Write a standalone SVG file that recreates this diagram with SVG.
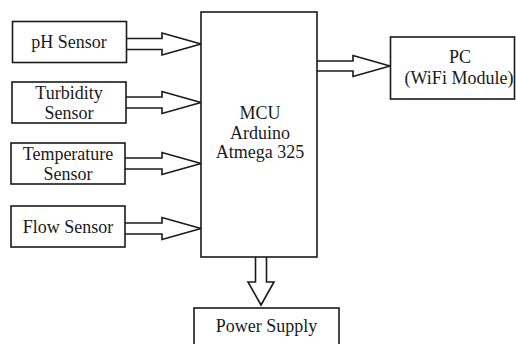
<svg xmlns="http://www.w3.org/2000/svg" width="516" height="344" viewBox="0 0 516 344">
<style>
.box{fill:#fff;stroke:#1a1a1a;stroke-width:1.6}
.arr{fill:#fff;stroke:#1a1a1a;stroke-width:1.6;stroke-linejoin:miter}
.t{font-family:'Liberation Serif','DejaVu Serif',serif;font-size:18px;fill:#1a1a1a;text-anchor:middle}
</style>
<rect width="516" height="344" fill="#fff"/>
<g id="connectors">
<path class="arr" d="M126,38.5 H162 V33 L201,44 L162,55 V49.5 H126"/>
<path class="arr" d="M126,97 H162 V91.5 L201,102.5 L162,113.5 V108 H126"/>
<path class="arr" d="M125,158 H162 V152.5 L201,163.5 L162,174.5 V169 H125"/>
<path class="arr" d="M125,223 H162 V217.5 L201,228.5 L162,239.5 V234 H125"/>
<path class="arr" d="M317,61 H353 V55.5 L390,66 L353,76.5 V71 H317"/>
<path class="arr" d="M255.5,257 V282 H248 L261,305 L274,282 H266.5 V257"/>
</g>
<g font-family="Liberation Serif, DejaVu Serif, serif" font-size="18" fill="#1a1a1a" text-anchor="middle">
<g id="ph"><rect class="box" x="12.5" y="21.5" width="114" height="41"/><text class="t" x="69" y="48">pH Sensor</text></g>
<g id="turbidity"><rect class="box" x="12" y="82" width="114" height="41"/><text class="t" x="69" y="99">Turbidity</text><text class="t" x="69" y="118.5">Sensor</text></g>
<g id="temperature"><rect class="box" x="11" y="143" width="114" height="41"/><text class="t" x="68" y="160">Temperature</text><text class="t" x="68" y="179.5">Sensor</text></g>
<g id="flow"><rect class="box" x="11" y="206" width="114" height="41"/><text class="t" x="68" y="232.5">Flow Sensor</text></g>
<g id="mcu"><rect class="box" x="201" y="12" width="116" height="245"/><text class="t" x="260" y="119">MCU</text><text class="t" x="260" y="138.5">Arduino</text><text class="t" x="260" y="158">Atmega 325</text></g>
<g id="pc"><rect class="box" x="390.5" y="37" width="124" height="62"/><text class="t" x="460" y="63">PC</text><text class="t" x="459" y="83.5">(WiFi Module)</text></g>
<g id="power"><rect class="box" x="194" y="308" width="145" height="40"/><text class="t" x="266.5" y="332">Power Supply</text></g>
</g>
</svg>
